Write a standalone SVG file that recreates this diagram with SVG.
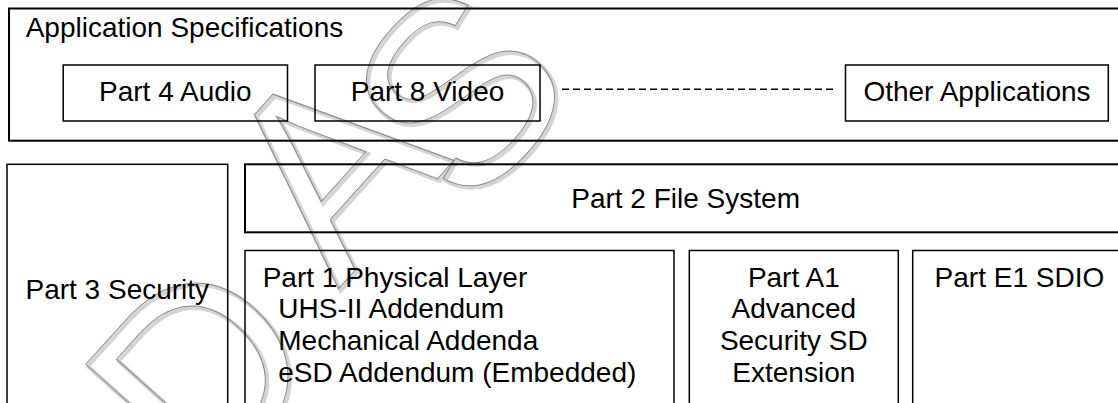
<svg xmlns="http://www.w3.org/2000/svg" width="1118" height="403" viewBox="0 0 1118 403">
<style>
  .box { fill: none; stroke: #000; stroke-width: 1.5; }
  .thick { stroke-width: 2; }
  .t { font-family: "Liberation Sans", Arial, sans-serif; font-size: 28px; fill: #000; }
  .c { text-anchor: middle; }
  .wm { font-family: "Liberation Sans", Arial, sans-serif; font-size: 260px; fill: none; }
  .sh { stroke: #d4d4d4; stroke-width: 4; }
  .ol { stroke: #8a8a8a; stroke-width: 1; }
  .dash { stroke: #000; stroke-width: 1.5; stroke-dasharray: 7 4; fill: none; }
</style>
<rect width="1118" height="403" fill="#fff"/>
<g id="watermark">
  <g transform="translate(2,2)">
    <text class="wm sh" transform="translate(204.6,499.8) rotate(-48)">D</text>
    <text class="wm sh" transform="translate(338.3,289) rotate(-48)">A</text>
    <text class="wm sh" transform="translate(467.2,216.1) rotate(-48)" font-size="280">S</text>
  </g>
  <text class="wm ol" transform="translate(204.6,499.8) rotate(-48)">D</text>
  <text class="wm ol" transform="translate(338.3,289) rotate(-48)">A</text>
  <text class="wm ol" transform="translate(467.2,216.1) rotate(-48)" font-size="280">S</text>
</g>
<g id="app-spec">
  <rect class="box thick" x="9" y="8.5" width="1117" height="132.2"/>
  <text class="t" x="25.7" y="36.7">Application Specifications</text>
</g>
<g id="part4-audio">
  <rect class="box" x="63.2" y="65" width="224.3" height="56"/>
  <text class="t c" x="175.3" y="100.5">Part 4 Audio</text>
</g>
<g id="part8-video">
  <rect class="box" x="315" y="65" width="225" height="56"/>
  <text class="t c" x="427.5" y="100.5">Part 8 Video</text>
</g>
<g id="other-apps">
  <rect class="box" x="845.5" y="65" width="262.8" height="56"/>
  <text class="t c" x="977" y="100.5">Other Applications</text>
</g>
<g id="part3-security">
  <rect class="box" x="7" y="164.3" width="220.7" height="300"/>
  <text class="t c" x="117.3" y="299">Part 3 Security</text>
</g>
<g id="part2-filesystem">
  <rect class="box thick" x="245" y="164.3" width="881" height="68"/>
  <text class="t c" x="685.6" y="207.5">Part 2 File System</text>
</g>
<g id="part1-physical">
  <rect class="box" x="245" y="250.5" width="429" height="200"/>
  <text class="t" x="262.7" y="286.7">Part 1 Physical Layer</text>
  <text class="t" x="278.3" y="318.3">UHS-II Addendum</text>
  <text class="t" x="278.3" y="350">Mechanical Addenda</text>
  <text class="t" x="278.3" y="381.7">eSD Addendum (Embedded)</text>
</g>
<g id="partA1-security">
  <rect class="box" x="689.3" y="250.5" width="209" height="200"/>
  <text class="t c" x="793.8" y="286.7">Part A1</text>
  <text class="t c" x="793.8" y="318.3">Advanced</text>
  <text class="t c" x="793.8" y="350">Security SD</text>
  <text class="t c" x="793.8" y="381.7">Extension</text>
</g>
<g id="partE1-sdio">
  <rect class="box" x="912.7" y="250.5" width="220" height="200"/>
  <text class="t" x="934.6" y="286.7">Part E1 SDIO</text>
</g>
<g id="connectors">
  <line class="dash" x1="562" y1="89.3" x2="833" y2="89.3"/>
</g>
</svg>
